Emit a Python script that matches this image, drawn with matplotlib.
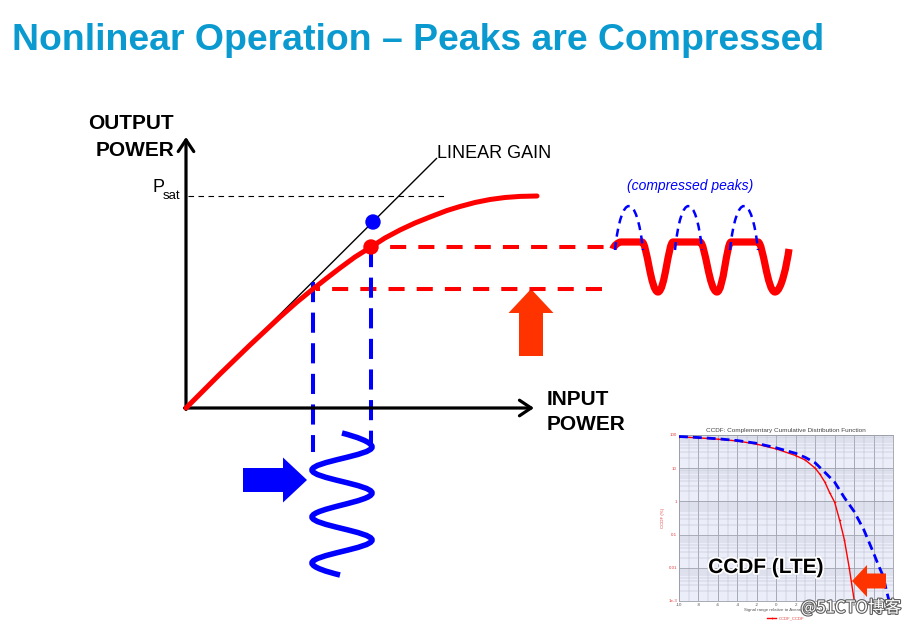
import matplotlib
matplotlib.use("Agg")
import matplotlib.pyplot as plt
from matplotlib.path import Path
from matplotlib.patches import PathPatch, FancyArrow, Circle
import matplotlib.patheffects as pe

plt.rcParams['font.family'] = ['Liberation Sans', 'DejaVu Sans']

# ---------------- data (diagram coordinates, pixel-like units) ----------------
title = "Nonlinear Operation \u2013 Peaks are Compressed"

origin_x, origin_y = 186, 408
yaxis_top = 137
xaxis_end = 534

# linear gain line
linear_x = [186, 437]
linear_y = [408, 158]

# compressed PA transfer curve
curve_x = [186, 205, 220, 235, 250, 265, 280, 297, 313, 327, 340, 355, 371, 385,
           400, 415, 430, 447, 460, 475, 490, 505, 520, 537]
curve_y = [408, 389, 374, 359.5, 345, 331, 317, 302, 289, 278, 268, 257, 247, 238,
           230, 223, 217, 210.5, 206.5, 202.5, 199.5, 197.5, 196.4, 196]

psat_y = 196
psat_x = [188, 448]

# operating points
in_low, in_high = 313, 371
out_low, out_high = 289, 247
out_linear_high = 222
hline_end = 612
vline_bottom = 452

# output waveform (compressed) key points
wave_top, wave_trough = 242, 292
red_wave_x = [613, 621, 642, 658, 673, 700, 717, 731, 758, 775, 789]
red_wave_start_y, red_wave_end_y = 249, 249
# uncompressed peaks (blue dashed humps): (left base, right base)
hump_bases = [(615, 643), (675, 702), (730, 758)]
hump_base_y, hump_top_y = 250, 206

# input waveform extremes (vertical sine)
in_wave_pts = [(342, 433), (372, 447), (312, 470), (372, 493), (312, 517),
               (372, 540), (312, 563), (340, 575)]

# CCDF inset data
ccdf_x_red = [-10, -8, -6, -4, -2, 0, 2, 3, 4, 4.5, 5, 5.5, 6, 6.5, 7, 7.5, 8]
ccdf_red = [88, 82, 75, 66, 53, 38, 24, 17.5, 10, 6.5, 3.8, 1.8, 0.95, 0.28, 0.07, 0.01, 0.0011]
ccdf_x_blue = [-10, -8, -6, -4, -2, 0, 2, 3, 4, 5, 6, 7, 8, 9, 10, 10.5, 11, 11.3, 11.6]
ccdf_blue = [90, 84, 77, 68, 56, 41, 28, 21, 14.5, 7.5, 3.8, 1.3, 0.5, 0.14, 0.028, 0.012,
             0.0055, 0.0022, 0.001]
ccdf_xticks = [-10, -8, -6, -4, -2, 0, 2, 4, 6, 8, 10, 12]
ccdf_yticks = [0.001, 0.01, 0.1, 1, 10, 100]
ccdf_ylabels = ["1e-3", "0.01", "0.1", "1", "10", "100"]

RED = '#FF0000'
ORANGE_RED = '#FF3300'
BLUE = '#0000FF'
TITLE_C = '#0A9AD0'

# ---------------- figure ----------------
W, H = 910, 627
fig = plt.figure(figsize=(9.1, 6.27), dpi=100)
ax = fig.add_axes([0, 0, 1, 1])
ax.set_xlim(0, W)
ax.set_ylim(H, 0)
ax.axis('off')

ax.text(12, 50, title, fontsize=26.9, fontweight='bold', color=TITLE_C,
        ha='left', va='baseline')

# axes arrows
ax.annotate('', xy=(origin_x, yaxis_top), xytext=(origin_x, origin_y + 1.5),
            arrowprops=dict(arrowstyle='->,head_length=0.42,head_width=0.28',
                            lw=2.3, color='black', mutation_scale=20,
                            shrinkA=0, shrinkB=0))
ax.annotate('', xy=(xaxis_end, origin_y), xytext=(origin_x - 1.5, origin_y),
            arrowprops=dict(arrowstyle='->,head_length=0.42,head_width=0.28',
                            lw=2.3, color='black', mutation_scale=20,
                            shrinkA=0, shrinkB=0))

ax.text(174, 129, "OUTPUT", fontsize=15, fontweight='bold', ha='right', va='baseline')
ax.text(174, 156, "POWER", fontsize=15, fontweight='bold', ha='right', va='baseline')
ax.text(547, 405, "INPUT", fontsize=15, fontweight='bold', ha='left', va='baseline')
ax.text(547, 430, "POWER", fontsize=15, fontweight='bold', ha='left', va='baseline')

# linear gain
ax.plot(linear_x, linear_y, color='black', lw=1.0, solid_capstyle='butt')
ax.text(437, 158, "LINEAR GAIN", fontsize=13, ha='left', va='baseline')

# Psat
ax.plot(psat_x, [psat_y, psat_y], color='black', lw=0.8, linestyle=(0, (5, 4)))
ax.text(152, 192, "P", fontsize=13, ha='left', va='baseline')
ax.text(163, 199, "sat", fontsize=9.5, ha='left', va='baseline')

# red dashed output levels
ax.plot([in_high + 3, hline_end], [out_high, out_high], color=RED, lw=2.9,
        linestyle=(3, (4, 3)))
ax.plot([in_low + 3, hline_end], [out_low, out_low], color=RED, lw=2.9,
        linestyle=(3, (4, 3)))

# blue dashed input levels
ax.plot([in_low, in_low], [282, vline_bottom], color=BLUE, lw=2.9,
        linestyle=(0, (5, 2.6)))
ax.plot([in_high, in_high], [out_high, vline_bottom], color=BLUE, lw=2.9,
        linestyle=(0, (5, 2.6)))

# compressed curve
ax.plot(curve_x, curve_y, color=RED, lw=3.6, solid_capstyle='round',
        solid_joinstyle='round', zorder=4)

# dots
ax.add_patch(Circle((in_high + 2, out_linear_high), 7, color=BLUE, zorder=5))
ax.add_patch(Circle((in_high, out_high), 7, color=RED, zorder=5))

# block arrows
ax.add_patch(FancyArrow(531, 356, 0, -67, width=24, head_width=45, head_length=24,
                        length_includes_head=True, color=ORANGE_RED, lw=0))
ax.add_patch(FancyArrow(243, 480, 64, 0, width=24, head_width=45, head_length=24,
                        length_includes_head=True, color=BLUE, lw=0))

# input vertical sine wave via Bezier curves between extremes
k = 0.3642
verts = [in_wave_pts[0]]
codes = [Path.MOVETO]
for i in range(1, len(in_wave_pts)):
    x0, y0 = in_wave_pts[i - 1]
    x1, y1 = in_wave_pts[i]
    dy = y1 - y0
    if i == 1:
        c1 = (x0 + 0.45 * (x1 - x0), y0 + 0.25 * dy)
    else:
        c1 = (x0, y0 + k * dy)
    if i == len(in_wave_pts) - 1:
        c2 = (x1 - 0.45 * (x1 - x0), y1 - 0.25 * dy)
    else:
        c2 = (x1, y1 - k * dy)
    verts += [c1, c2, (x1, y1)]
    codes += [Path.CURVE4] * 3
ax.add_patch(PathPatch(Path(verts, codes), fill=False, edgecolor=BLUE, lw=4.0,
                       capstyle='butt'))

# compressed output wave (horizontal, flat tops)
rx = red_wave_x
levels = [red_wave_start_y, wave_top, wave_top, wave_trough, wave_top, wave_top,
          wave_trough, wave_top, wave_top, wave_trough, red_wave_end_y]
verts = [(rx[0], levels[0])]
codes = [Path.MOVETO]
for i in range(1, len(rx)):
    x0, y0 = rx[i - 1], levels[i - 1]
    x1, y1 = rx[i], levels[i]
    if y0 == y1:
        verts.append((x1, y1))
        codes.append(Path.LINETO)
        continue
    dx = x1 - x0
    top_to_trough = y1 > y0
    if i == 1:
        c1 = (x0 + 0.1 * dx, y0 + 0.5 * (y1 - y0))
    else:
        c1 = (x0 + (0.3 if top_to_trough else 0.45) * dx, y0)
    if i == len(rx) - 1:
        c2 = (x1 - 0.15 * dx, y1 + 0.35 * (y0 - y1))
    else:
        c2 = (x1 - (0.45 if top_to_trough else 0.3) * dx, y1)
    verts += [c1, c2, (x1, y1)]
    codes += [Path.CURVE4] * 3
ax.add_patch(PathPatch(Path(verts, codes), fill=False, edgecolor=RED, lw=5.2,
                       capstyle='butt', joinstyle='round', zorder=3))

# uncompressed peaks (dashed humps)
for xl, xr in hump_bases:
    hgt = hump_base_y - hump_top_y
    w = xr - xl
    p = Path([(xl, hump_base_y), (xl + 0.22 * w, hump_base_y - 1.333 * hgt),
              (xr - 0.22 * w, hump_base_y - 1.333 * hgt), (xr, hump_base_y)],
             [Path.MOVETO, Path.CURVE4, Path.CURVE4, Path.CURVE4])
    ax.add_patch(PathPatch(p, fill=False, edgecolor=BLUE, lw=1.8,
                           linestyle=(0, (3.2, 2.2)), zorder=4))

ax.text(690, 190, "(compressed peaks)", fontsize=10, style='italic', color=BLUE,
        ha='center', va='baseline')

# ---------------- CCDF inset ----------------
L, R, T, B = 679, 893, 435, 601
axi = fig.add_axes([L / W, 1 - B / H, (R - L) / W, (B - T) / H])
axi.set_facecolor('#EBEEF9')
axi.set_yscale('log')
axi.set_xlim(-10, 12)
axi.set_ylim(0.001, 100)
axi.set_xticks(ccdf_xticks)
axi.set_xticklabels([str(v) for v in ccdf_xticks])
axi.set_xticks(list(range(-10, 13)), minor=True)
axi.set_yticks(ccdf_yticks)
axi.set_yticklabels(ccdf_ylabels)
axi.tick_params(axis='both', which='both', length=0, labelsize=3.2, pad=1.5,
                colors='#555555')
axi.tick_params(axis='y', labelcolor='#E04040')
axi.grid(True, which='major', color='#9A9EAA', lw=0.6)
axi.grid(True, which='minor', color='#B8BCC8', lw=0.35)
for s in axi.spines.values():
    s.set_color('#9A9EAA')
    s.set_linewidth(0.6)
axi.plot(ccdf_x_red, ccdf_red, color=RED, lw=1.0, marker='+', markersize=1.5,
         markeredgewidth=0.4, label='CCDF_CCDF', zorder=3)
axi.plot(ccdf_x_blue, ccdf_blue, color=BLUE, lw=2.0, linestyle=(0, (3.2, 1.8)), zorder=3)
axi.set_title("CCDF: Complementary Cumulative Distribution Function", fontsize=4.6,
              color='#444444', pad=2)
axi.set_xlabel("Signal range relative to Average Power (dB)", fontsize=3.2,
               color='#555555', labelpad=1)
axi.set_ylabel("CCDF (%)", fontsize=3.2, color='#E04040', labelpad=2)
axi.legend(loc='upper center', bbox_to_anchor=(0.5, -0.07), fontsize=3,
           frameon=False, handlelength=2, labelcolor='#E04040')

# ---------------- overlay ----------------
axo = fig.add_axes([0, 0, 1, 1], zorder=10)
axo.set_xlim(0, W)
axo.set_ylim(H, 0)
axo.axis('off')
axo.patch.set_alpha(0)

axo.text(766, 573, "CCDF (LTE)", fontsize=15, fontweight='bold', color='black',
         ha='center', va='baseline',
         path_effects=[pe.withStroke(linewidth=2.5, foreground='white')])
axo.add_patch(FancyArrow(886, 581, -34, 0, width=15, head_width=32, head_length=15,
                         length_includes_head=True, color=ORANGE_RED, lw=0))
axo.text(851, 608, "@51CTO博客", fontsize=12, color='white', ha='center', va='center',
         family=['Noto Sans CJK SC', 'DejaVu Sans'],
         path_effects=[pe.withStroke(linewidth=1.6, foreground='#606060')])

fig.savefig('out.png', dpi=100)
